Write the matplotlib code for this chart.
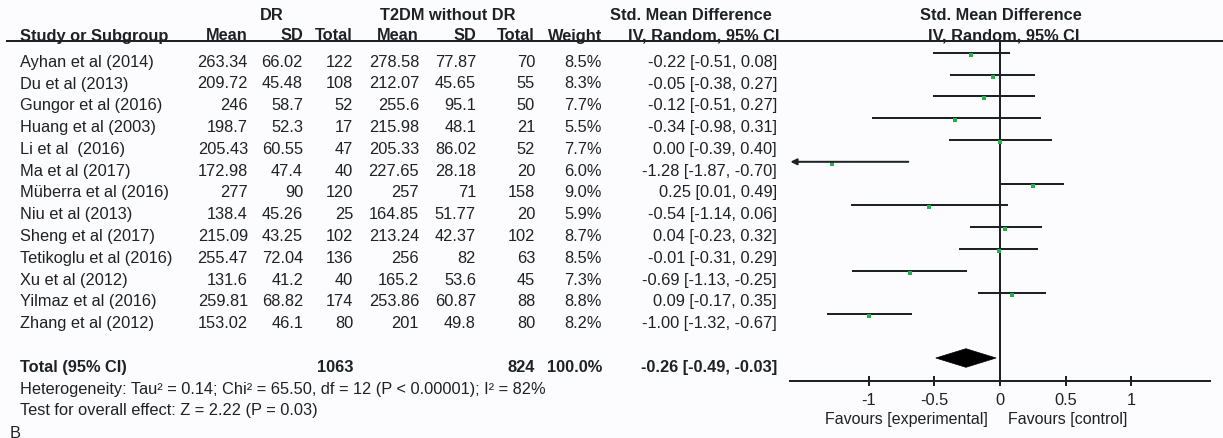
import matplotlib
matplotlib.use("Agg")
import matplotlib.pyplot as plt
from matplotlib.patches import Polygon

plt.rcParams['font.family'] = ['Liberation Sans', 'DejaVu Sans']
plt.rcParams['axes.unicode_minus'] = False

# ---- data -------------------------------------------------------------
studies = [
    "Ayhan et al (2014)", "Du et al (2013)", "Gungor et al (2016)",
    "Huang et al (2003)", "Li et al  (2016)", "Ma et al (2017)",
    "Müberra et al (2016)", "Niu et al (2013)", "Sheng et al (2017)",
    "Tetikoglu et al (2016)", "Xu et al (2012)", "Yilmaz et al (2016)",
    "Zhang et al (2012)",
]
dr_mean = [263.34, 209.72, 246, 198.7, 205.43, 172.98, 277, 138.4, 215.09,
           255.47, 131.6, 259.81, 153.02]
dr_sd = [66.02, 45.48, 58.7, 52.3, 60.55, 47.4, 90, 45.26, 43.25, 72.04,
         41.2, 68.82, 46.1]
dr_n = [122, 108, 52, 17, 47, 40, 120, 25, 102, 136, 40, 174, 80]
ctrl_mean = [278.58, 212.07, 255.6, 215.98, 205.33, 227.65, 257, 164.85,
             213.24, 256, 165.2, 253.86, 201]
ctrl_sd = [77.87, 45.65, 95.1, 48.1, 86.02, 28.18, 71, 51.77, 42.37, 82,
           53.6, 60.87, 49.8]
ctrl_n = [70, 55, 50, 21, 52, 20, 158, 20, 102, 63, 45, 88, 80]
weight = [8.5, 8.3, 7.7, 5.5, 7.7, 6.0, 9.0, 5.9, 8.7, 8.5, 7.3, 8.8, 8.2]
smd = [-0.22, -0.05, -0.12, -0.34, 0.00, -1.28, 0.25, -0.54, 0.04, -0.01,
       -0.69, 0.09, -1.00]
ci_lo = [-0.51, -0.38, -0.51, -0.98, -0.39, -1.87, 0.01, -1.14, -0.23,
         -0.31, -1.13, -0.17, -1.32]
ci_hi = [0.08, 0.27, 0.27, 0.31, 0.40, -0.70, 0.49, 0.06, 0.32, 0.29,
         -0.25, 0.35, -0.67]

total_dr = 1063
total_ctrl = 824
total_weight = 100.0
pooled = (-0.26, -0.49, -0.03)
heterogeneity = ("Heterogeneity: Tau² = 0.14; Chi² = 65.50, df = 12 "
                 "(P < 0.00001); I² = 82%")
overall = "Test for overall effect: Z = 2.22 (P = 0.03)"

xtick_vals = [-1, -0.5, 0, 0.5, 1]
xtick_labels = ["-1", "-0.5", "0", "0.5", "1"]
axis_limit = 1.6

# ---- figure -----------------------------------------------------------
W, H = 1223, 439
ink = "#1e2225"
green = "#22b24c"
bg = "#fcfcfe"
fs = 11.8

fig = plt.figure(figsize=(W / 100, H / 100), dpi=100, facecolor=bg)

# table layer in pixel coordinates
ax_t = fig.add_axes([0, 0, 1, 1])
ax_t.set_xlim(0, W)
ax_t.set_ylim(H, 0)
ax_t.axis("off")
ax_t.patch.set_alpha(0)

row0 = 60.8      # centre of first study row
step = 21.8      # row pitch
base = 5.9       # centre -> baseline shift


def row_base(i):
    return row0 + step * i + base


col_right = [248, 303, 353, 419, 476, 535, 602, 777]
name_x = 20

# headers
ax_t.text(272, 20.5, "DR", ha="center", va="baseline", fontsize=fs,
          fontweight="bold", color=ink)
ax_t.text(447.5, 20.5, "T2DM without DR", ha="center", va="baseline",
          fontsize=fs, fontweight="bold", color=ink)
ax_t.text(690.5, 20.5, "Std. Mean Difference", ha="center", va="baseline",
          fontsize=fs, fontweight="bold", color=ink)
ax_t.text(1001, 20.5, "Std. Mean Difference", ha="center", va="baseline",
          fontsize=fs, fontweight="bold", color=ink)

hdr2 = ["Mean", "SD", "Total", "Mean", "SD", "Total", "Weight"]
ax_t.text(name_x, 40.5, "Study or Subgroup", ha="left", va="baseline",
          fontsize=fs, fontweight="bold", color=ink)
for x, h in zip(col_right, hdr2):
    ax_t.text(x, 40.5, h, ha="right", va="baseline", fontsize=fs,
              fontweight="bold", color=ink)
ax_t.text(704, 40.5, "IV, Random, 95% CI", ha="center", va="baseline",
          fontsize=fs, fontweight="bold", color=ink)
ax_t.text(1004, 40.5, "IV, Random, 95% CI", ha="center", va="baseline",
          fontsize=fs, fontweight="bold", color=ink)
ax_t.plot([6, W], [42, 42], color=ink, lw=1.44, solid_capstyle="butt")

# study rows
for i, name in enumerate(studies):
    yb = row_base(i)
    ax_t.text(name_x, yb, name, ha="left", va="baseline", fontsize=fs,
              color=ink)
    cells = [f"{dr_mean[i]:g}", f"{dr_sd[i]:g}", f"{dr_n[i]}",
             f"{ctrl_mean[i]:g}", f"{ctrl_sd[i]:g}", f"{ctrl_n[i]}",
             f"{weight[i]:.1f}%",
             f"{smd[i]:.2f} [{ci_lo[i]:.2f}, {ci_hi[i]:.2f}]"]
    for x, c in zip(col_right, cells):
        ax_t.text(x, yb, c, ha="right", va="baseline", fontsize=fs,
                  color=ink)

# total row and footnotes
yb = row_base(14)
ax_t.text(name_x, yb, "Total (95% CI)", ha="left", va="baseline",
          fontsize=fs, fontweight="bold", color=ink)
ax_t.text(col_right[2], yb, f"{total_dr}", ha="right", va="baseline",
          fontsize=fs, fontweight="bold", color=ink)
ax_t.text(col_right[5], yb, f"{total_ctrl}", ha="right", va="baseline",
          fontsize=fs, fontweight="bold", color=ink)
ax_t.text(col_right[6], yb, f"{total_weight:.1f}%", ha="right",
          va="baseline", fontsize=fs, fontweight="bold", color=ink)
ax_t.text(col_right[7], yb,
          f"{pooled[0]:.2f} [{pooled[1]:.2f}, {pooled[2]:.2f}]",
          ha="right", va="baseline", fontsize=fs, fontweight="bold",
          color=ink)
ax_t.text(name_x, row_base(15), heterogeneity, ha="left", va="baseline",
          fontsize=fs, color=ink)
ax_t.text(name_x, row_base(16), overall, ha="left", va="baseline",
          fontsize=fs, color=ink)
ax_t.text(10, 438, "B", ha="left", va="baseline", fontsize=fs, color=ink)

# ---- forest panel -----------------------------------------------------
zero_px, unit_px, left_px = 1000, 131, 780
ax_f = fig.add_axes([left_px / W, 0, (W - left_px) / W, 1])
ax_f.set_xlim((left_px - zero_px) / unit_px, (W - zero_px) / unit_px)
ax_f.set_ylim(H, 0)
ax_f.patch.set_alpha(0)
for s in ("top", "left", "right"):
    ax_f.spines[s].set_visible(False)
axis_y = 381.7
sp = ax_f.spines["bottom"]
sp.set_position(("data", axis_y))
sp.set_bounds(-axis_limit, axis_limit)
sp.set_linewidth(1.44)
sp.set_color(ink)
ax_f.set_yticks([])
ax_f.set_xticks(xtick_vals)
ax_f.set_xticklabels(xtick_labels)
ax_f.tick_params(axis="x", direction="inout", length=7.2, width=1.44,
                 colors=ink, pad=4.5, labelsize=fs)

ax_f.vlines(0, 42, axis_y, color=ink, lw=1.44)

line_off = 7.0
for i in range(len(studies)):
    y = row0 + step * i - line_off
    lo = max(ci_lo[i], -axis_limit)
    hi = min(ci_hi[i], axis_limit)
    if ci_lo[i] < -axis_limit:
        ax_f.annotate("", xy=(-axis_limit, y), xytext=(hi, y),
                      arrowprops=dict(arrowstyle="-|>", lw=1.44, color=ink,
                                      mutation_scale=9, shrinkA=0,
                                      shrinkB=0))
    else:
        ax_f.hlines(y, lo, hi, color=ink, lw=1.44)
    ax_f.plot(smd[i], y + 2, "s", ms=3.4, mew=0, color=green)

yd = row0 + step * 14 - line_off
half_h = 9.3
diamond = Polygon([(pooled[1], yd), (pooled[0], yd - half_h),
                   (pooled[2], yd), (pooled[0], yd + half_h)],
                  closed=True, facecolor="black", edgecolor="black", lw=0.5)
ax_f.add_patch(diamond)

fav_y = 418 + 5.7
ax_f.text(-0.09, fav_y, "Favours [experimental]", ha="right", va="baseline",
          fontsize=11.5, color=ink)
ax_f.text(0.06, fav_y, "Favours [control]", ha="left", va="baseline",
          fontsize=11.5, color=ink)

fig.savefig("out.png", dpi=100, facecolor=bg)
